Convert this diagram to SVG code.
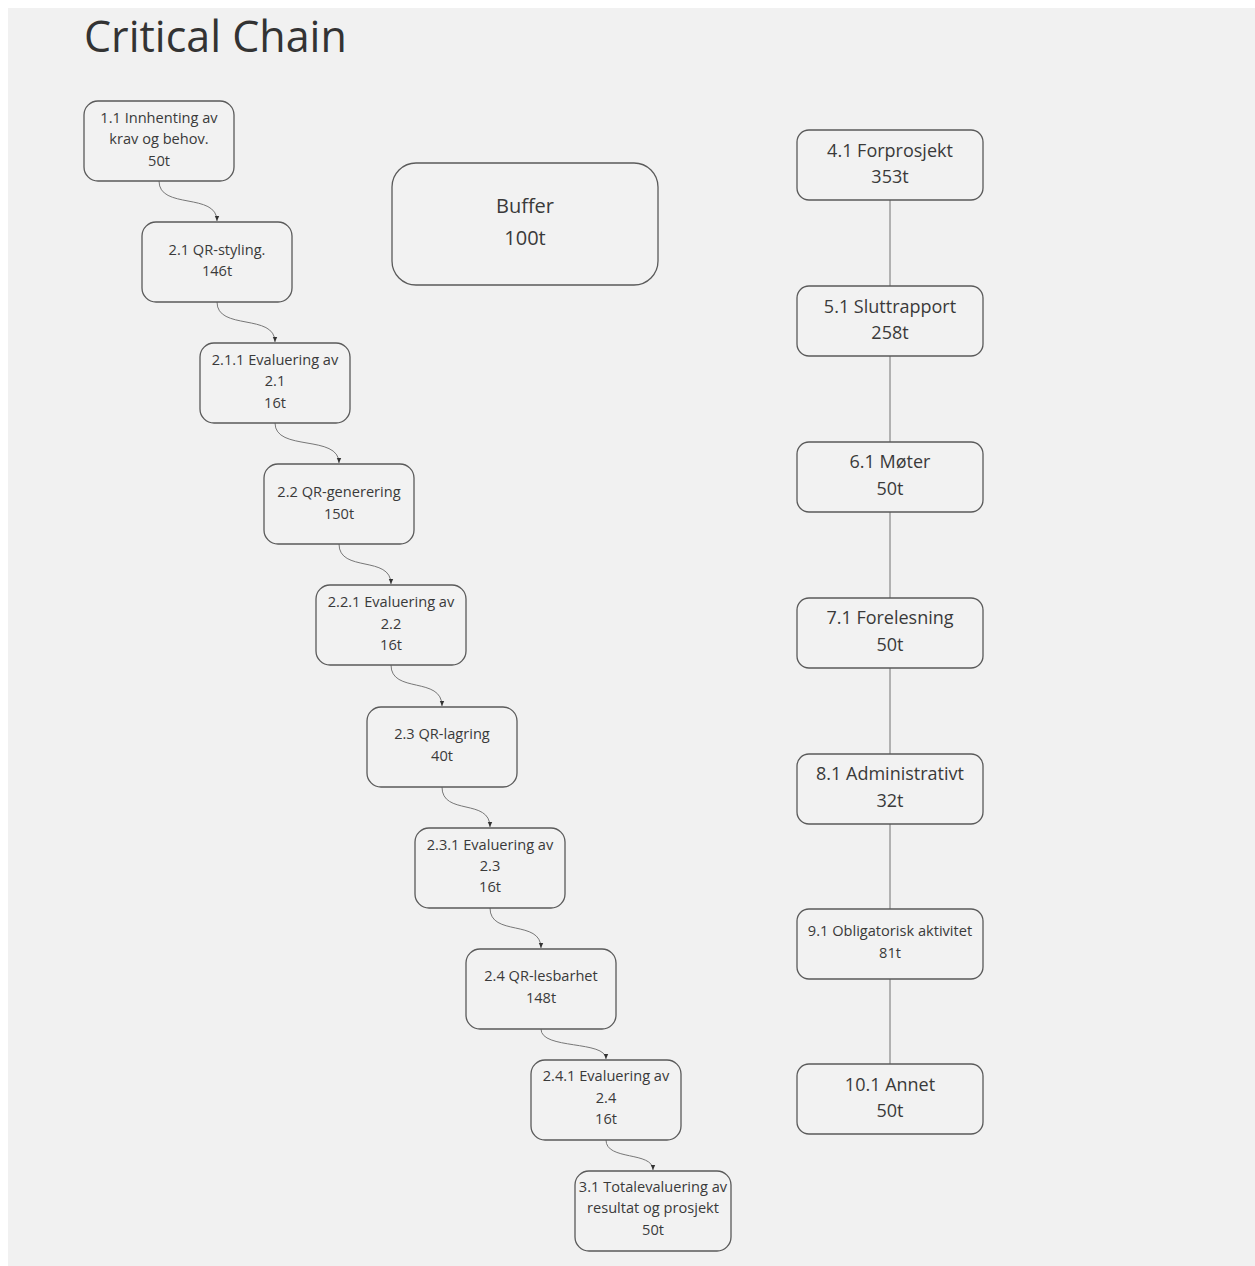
<svg xmlns="http://www.w3.org/2000/svg" width="1255" height="1266" viewBox="0 0 1255 1266">
  <defs>
    <marker id="arrow" viewBox="0 0 6 6" refX="5" refY="3" markerWidth="6" markerHeight="6" orient="auto" markerUnits="userSpaceOnUse">
      <path d="M0,0.8 L5,3 L0,5.2 Z" fill="#333"/>
    </marker>
    <style>
      .box { fill: #f2f2f2; stroke: #5a5a5a; stroke-width: 1.3; }
      .t { font-family: "Open Sans", "Liberation Sans", sans-serif; fill: #3a3a3a; text-anchor: middle; }
      .s { font-size: 14.6px; }
      .m { font-size: 18px; }
      .l { font-size: 20px; }
      .link { fill: none; stroke: #777; stroke-width: 1; }
      .line { fill: none; stroke: #888; stroke-width: 1.2; }
    </style>
  </defs>

  <rect x="0" y="0" width="1255" height="1266" fill="#ffffff"/>
  <rect x="8" y="8" width="1247" height="1258" fill="#f1f1f1"/>

  <text x="84" y="52" font-family="'Open Sans', 'Liberation Sans', sans-serif" font-size="43" fill="#333">Critical Chain</text>

  <!-- connectors -->
  <g id="connectors">
    <path class="link" d="M159,181 C159,210 217,192 217,221" marker-end="url(#arrow)"/>
    <path class="link" d="M217,302 C217,331 275,313 275,342" marker-end="url(#arrow)"/>
    <path class="link" d="M275,423 C275,452 339,434 339,463" marker-end="url(#arrow)"/>
    <path class="link" d="M339,544 C339,573 391,555 391,584" marker-end="url(#arrow)"/>
    <path class="link" d="M391,665 C391,694 442,676 442,706" marker-end="url(#arrow)"/>
    <path class="link" d="M442,787 C442,816 490,798 490,827" marker-end="url(#arrow)"/>
    <path class="link" d="M490,908 C490,937 541,919 541,948" marker-end="url(#arrow)"/>
    <path class="link" d="M541,1029 C541,1050 606,1040 606,1059" marker-end="url(#arrow)"/>
    <path class="link" d="M606,1140 C606,1161 653,1151 653,1170" marker-end="url(#arrow)"/>
    <path class="line" d="M890,200 V286 M890,356 V442 M890,512 V598 M890,668 V754 M890,824 V909 M890,979 V1064"/>
  </g>

  <!-- chain tasks -->
  <g id="n1-1"><rect class="box" x="84" y="101" width="150" height="80" rx="14"/>
    <text class="t s" x="159" y="123">1.1 Innhenting av</text><text class="t s" x="159" y="144">krav og behov.</text><text class="t s" x="159" y="166">50t</text></g>
  <g id="n2-1"><rect class="box" x="142" y="222" width="150" height="80" rx="14"/>
    <text class="t s" x="217" y="255">2.1 QR-styling.</text><text class="t s" x="217" y="276">146t</text></g>
  <g id="n2-1-1"><rect class="box" x="200" y="343" width="150" height="80" rx="14"/>
    <text class="t s" x="275" y="365">2.1.1 Evaluering av</text><text class="t s" x="275" y="386">2.1</text><text class="t s" x="275" y="408">16t</text></g>
  <g id="n2-2"><rect class="box" x="264" y="464" width="150" height="80" rx="14"/>
    <text class="t s" x="339" y="497">2.2 QR-generering</text><text class="t s" x="339" y="519">150t</text></g>
  <g id="n2-2-1"><rect class="box" x="316" y="585" width="150" height="80" rx="14"/>
    <text class="t s" x="391" y="607">2.2.1 Evaluering av</text><text class="t s" x="391" y="629">2.2</text><text class="t s" x="391" y="650">16t</text></g>
  <g id="n2-3"><rect class="box" x="367" y="707" width="150" height="80" rx="14"/>
    <text class="t s" x="442" y="739">2.3 QR-lagring</text><text class="t s" x="442" y="761">40t</text></g>
  <g id="n2-3-1"><rect class="box" x="415" y="828" width="150" height="80" rx="14"/>
    <text class="t s" x="490" y="850">2.3.1 Evaluering av</text><text class="t s" x="490" y="871">2.3</text><text class="t s" x="490" y="892">16t</text></g>
  <g id="n2-4"><rect class="box" x="466" y="949" width="150" height="80" rx="14"/>
    <text class="t s" x="541" y="981">2.4 QR-lesbarhet</text><text class="t s" x="541" y="1003">148t</text></g>
  <g id="n2-4-1"><rect class="box" x="531" y="1060" width="150" height="80" rx="14"/>
    <text class="t s" x="606" y="1081">2.4.1 Evaluering av</text><text class="t s" x="606" y="1103">2.4</text><text class="t s" x="606" y="1124">16t</text></g>
  <g id="n3-1"><rect class="box" x="575" y="1171" width="156" height="80" rx="14"/>
    <text class="t s" x="653" y="1192">3.1 Totalevaluering av</text><text class="t s" x="653" y="1213">resultat og prosjekt</text><text class="t s" x="653" y="1235">50t</text></g>

  <!-- buffer -->
  <g id="buffer"><rect class="box" x="392" y="163" width="266" height="122" rx="24"/>
    <text class="t l" x="525" y="213">Buffer</text><text class="t l" x="525" y="245">100t</text></g>

  <!-- other work packages -->
  <g id="n4-1"><rect class="box" x="797" y="130" width="186" height="70" rx="12"/>
    <text class="t m" x="890" y="157">4.1 Forprosjekt</text><text class="t m" x="890" y="183">353t</text></g>
  <g id="n5-1"><rect class="box" x="797" y="286" width="186" height="70" rx="12"/>
    <text class="t m" x="890" y="313">5.1 Sluttrapport</text><text class="t m" x="890" y="339">258t</text></g>
  <g id="n6-1"><rect class="box" x="797" y="442" width="186" height="70" rx="12"/>
    <text class="t m" x="890" y="468">6.1 Møter</text><text class="t m" x="890" y="495">50t</text></g>
  <g id="n7-1"><rect class="box" x="797" y="598" width="186" height="70" rx="12"/>
    <text class="t m" x="890" y="624">7.1 Forelesning</text><text class="t m" x="890" y="651">50t</text></g>
  <g id="n8-1"><rect class="box" x="797" y="754" width="186" height="70" rx="12"/>
    <text class="t m" x="890" y="780">8.1 Administrativt</text><text class="t m" x="890" y="807">32t</text></g>
  <g id="n9-1"><rect class="box" x="797" y="909" width="186" height="70" rx="12"/>
    <text class="t s" x="890" y="936">9.1 Obligatorisk aktivitet</text><text class="t s" x="890" y="958">81t</text></g>
  <g id="n10-1"><rect class="box" x="797" y="1064" width="186" height="70" rx="12"/>
    <text class="t m" x="890" y="1091">10.1 Annet</text><text class="t m" x="890" y="1117">50t</text></g>
</svg>
